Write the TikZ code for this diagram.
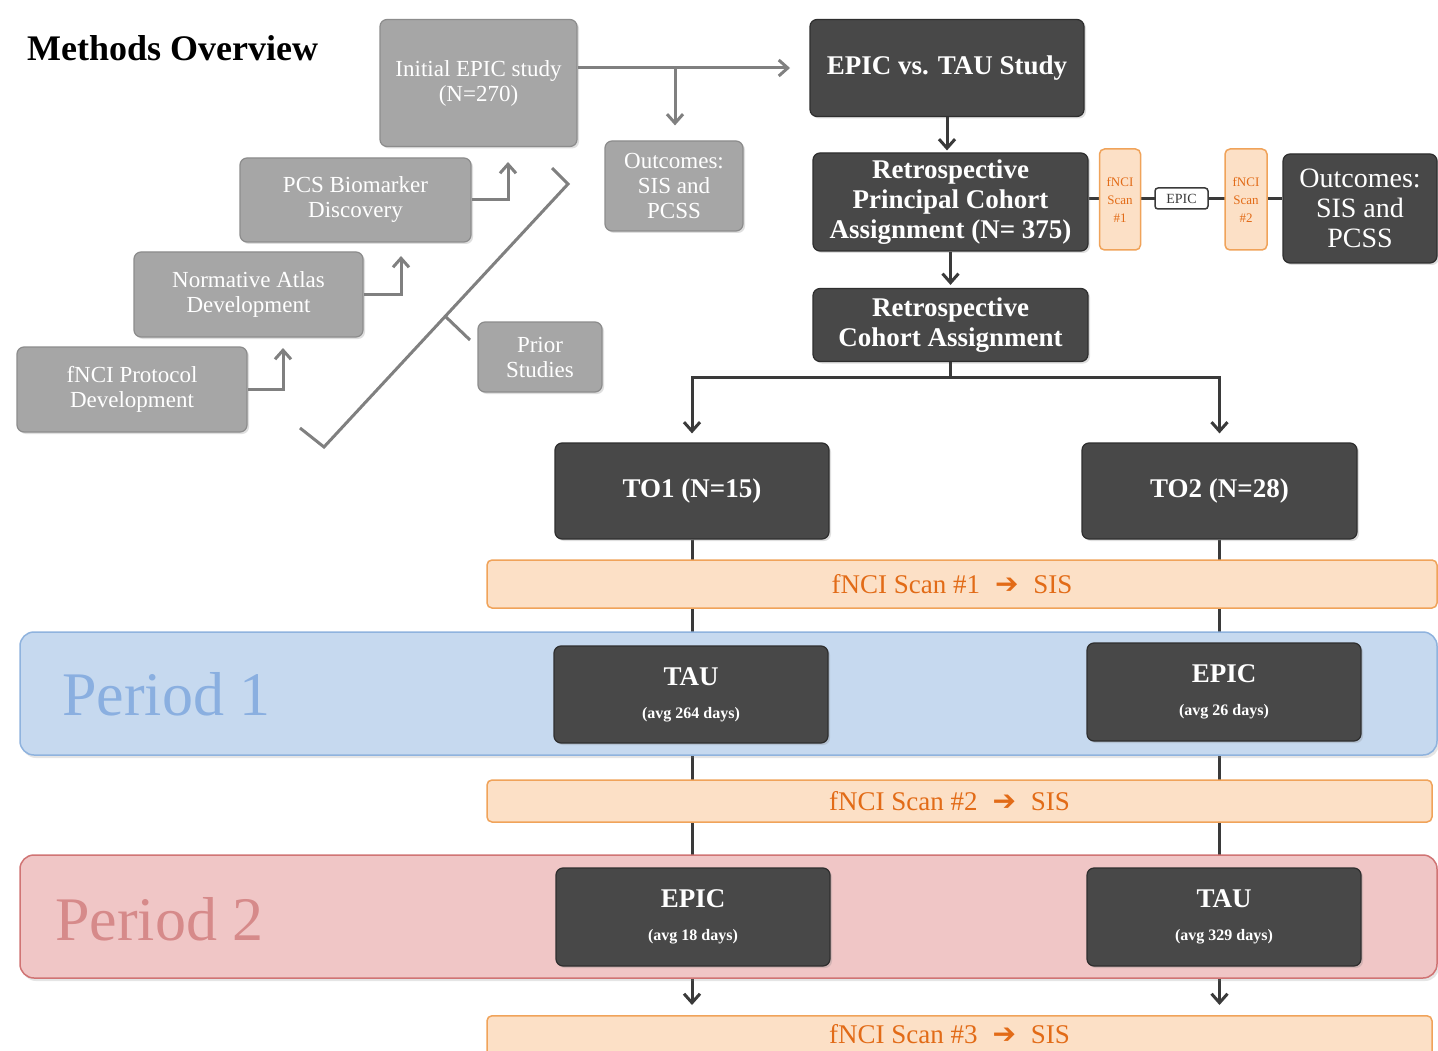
\documentclass[tikz,border=0pt]{standalone}
\usepackage{fontspec}
\setmainfont{Liberation Serif}
\newfontfamily\dvfont{DejaVu Sans}
\usetikzlibrary{arrows.meta,shadows,calc}
\pgfdeclarelayer{back}
\pgfdeclarelayer{bg}
\pgfsetlayers{back,bg,main}
\definecolor{lgfill}{HTML}{A6A6A6}
\definecolor{lgdraw}{HTML}{8C8C8C}
\definecolor{dkfill}{HTML}{484848}
\definecolor{dkdraw}{HTML}{2E2E2E}
\definecolor{orfill}{HTML}{FCE0C6}
\definecolor{ordraw}{HTML}{F0A35A}
\definecolor{ortext}{HTML}{E26B17}
\definecolor{bluefill}{HTML}{C6D9EF}
\definecolor{bluedraw}{HTML}{8FB3DE}
\definecolor{bluetext}{HTML}{8AAFE0}
\definecolor{pinkfill}{HTML}{F0C6C6}
\definecolor{pinkdraw}{HTML}{D07474}
\definecolor{pinktext}{HTML}{D68A8A}
\definecolor{arrgrey}{HTML}{808080}
\definecolor{arrdark}{HTML}{3A3A3A}
\newcommand\fsz[2]{\fontsize{#1}{#2}\selectfont}
\begin{document}
\begin{tikzpicture}[x=1pt,y=-1pt,
  shad/.style={drop shadow={opacity=0.25,shadow xshift=2pt,shadow yshift=-2pt}},
  lbox/.style={rounded corners=7pt, fill=lgfill, draw=lgdraw, line width=1.2pt, text=white,
    align=center, inner sep=0pt, font=\fsz{23}{25}, shad},
  dbox/.style={rounded corners=7pt, fill=dkfill, draw=dkdraw, line width=1.2pt, text=white,
    align=center, inner sep=0pt, font=\bfseries\fsz{27}{30}, shad},
  obox/.style={rounded corners=5pt, fill=orfill, draw=ordraw, line width=1.5pt, text=ortext,
    align=center, inner sep=0pt},
  bartext/.style={font=\fsz{27}{30}},
  band/.style={rounded corners=14pt, line width=1.5pt, inner sep=0pt,
    drop shadow={opacity=0.2,shadow xshift=2pt,shadow yshift=-3pt}},
  garrow/.style={draw=arrgrey, line width=3pt, -{Straight Barb[length=9pt,width=16pt]}},
  gline/.style={draw=arrgrey, line width=3pt},
  darrow/.style={draw=arrdark, line width=3pt, -{Straight Barb[length=9pt,width=16pt]}},
  dline/.style={draw=arrdark, line width=3pt},
]
\useasboundingbox (0,0) rectangle (1438,1051);
\begin{pgfonlayer}{back}
\fill[white] (0,0) rectangle (1438,1051);
\end{pgfonlayer}

% title
\node[anchor=west, font=\bfseries\fsz{36}{40}, inner sep=0pt] (title) at (27,48) {Methods Overview};

% left grey part
\node[lbox, minimum width=197pt, minimum height=127pt] (init) at (478.5,83) {Initial EPIC study\\(N=270)};
\node[lbox, minimum width=138pt, minimum height=90pt] (out1) at (674,186) {Outcomes:\\SIS and\\PCSS};
\node[lbox, minimum width=231pt, minimum height=84pt] (pcs) at (355.5,200) {PCS Biomarker\\Discovery};
\node[lbox, minimum width=229pt, minimum height=85pt] (norm) at (248.5,294.5) {Normative Atlas\\Development};
\node[lbox, minimum width=230pt, minimum height=85pt] (fnci) at (132,389.5) {fNCI Protocol\\Development};
\node[lbox, minimum width=124pt, minimum height=70pt] (prior) at (540,357) {Prior\\Studies};

\coordinate (tipA) at (790,68);
\coordinate (brA) at (675,68);
\draw[garrow] (init.east |- tipA) -- (tipA);
\draw[garrow, shorten >=15pt] (brA) -- (brA |- out1.north);
\coordinate (u1) at (283,348);
\coordinate (u2) at (401,256);
\coordinate (u3) at (508,162);
\draw[garrow] (fnci.east) -| (u1);
\draw[garrow] (norm.east) -| (u2);
\draw[garrow] (pcs.east) -| (u3);

% bracket
\coordinate (b1) at (300,428);
\coordinate (b2) at (324,447);
\coordinate (b3) at (568,184);
\coordinate (b4) at (552,168);
\coordinate (bj) at (446,317);
\coordinate (bt) at (470,340);
\draw[gline, line join=miter] (b1) -- (b2) -- (b3) -- (b4);
\draw[gline] (bj) -- (bt);

% right dark column
\node[dbox, minimum width=274pt, minimum height=97pt] (epictau) at (947,68) {EPIC vs. TAU Study};
\node[dbox, minimum width=275pt, minimum height=98pt] (rpca) at (950.5,202) {Retrospective\\Principal Cohort\\Assignment (N= 375)};
\node[dbox, minimum width=275pt, minimum height=73pt] (rca) at (950.5,325) {Retrospective\\Cohort Assignment};
\node[dbox, minimum width=274pt, minimum height=96pt] (to1) at (692,491) {TO1 (N=15)};
\node[dbox, minimum width=275pt, minimum height=96pt] (to2) at (1219.5,491) {TO2 (N=28)};

\node[obox, minimum width=41pt, minimum height=101pt, font=\fsz{13}{18}] (s1) at (1120,199.5) {fNCI\\Scan\\\#1};
\node[rounded corners=3pt, fill=white, draw=arrdark, line width=1.5pt, text=arrdark, inner sep=0pt,
  minimum width=53pt, minimum height=21pt, font=\fsz{14}{16}] (epics) at (1181.5,198.5) {EPIC};
\node[obox, minimum width=42pt, minimum height=101pt, font=\fsz{13}{18}] (s2) at (1246,199.5) {fNCI\\Scan\\\#2};
\node[dbox, font=\fsz{28}{30}, minimum width=154pt, minimum height=109pt] (out2) at (1360,208.5) {Outcomes:\\SIS and\\PCSS};

\begin{pgfonlayer}{bg}
\draw[dline] (rpca.east |- epics) -- (out2.west |- epics);
\end{pgfonlayer}

\draw[darrow, shorten >=2pt] (epictau.south) -- (epictau.south |- rpca.north);
\draw[darrow, shorten >=3pt] (rpca.south) -- (rca.north);
\coordinate (j) at (950.5,377);
\draw[dline] (rca.south) -- (j);
\draw[darrow, shorten >=9pt] (j) -| (to1.north);
\draw[darrow, shorten >=9pt] (j) -| (to2.north);

% vertical lines behind bars
\coordinate (tip1) at (693,1005);
\coordinate (tip2) at (1222,1005);
\begin{pgfonlayer}{bg}
\draw[darrow] (to1.south) -- (to1.south |- tip1);
\draw[darrow] (to2.south) -- (to2.south |- tip2);
\end{pgfonlayer}

% bars and bands
\newcommand\scantext[1]{fNCI Scan \##1\hspace{15pt}{\dvfont\bfseries\fsz{28}{28}➔}\hspace{15pt}SIS\hspace{20pt}}
\node[obox, minimum width=950pt, minimum height=48pt, bartext] (bar1) at (962,584) {\scantext{1}};

\node[band, fill=bluefill, draw=bluedraw, minimum width=1417pt, minimum height=123pt] (p1) at (728.5,693.5) {};
\node[anchor=west, inner sep=0pt, text=bluetext, font=\fsz{62}{62}] (p1l) at (62,694) {Period 1};
\node[dbox, minimum width=274pt, minimum height=97pt] (tau1) at (691,694.5) {TAU\\[3pt]{\fsz{16}{18}(avg 264 days)}};
\node[dbox, minimum width=274pt, minimum height=98pt] (epic1) at (1224,692) {EPIC\\[3pt]{\fsz{16}{18}(avg 26 days)}};

\node[obox, minimum width=945pt, minimum height=42pt, bartext] (bar2) at (959.5,801) {\scantext{2}};

\node[band, fill=pinkfill, draw=pinkdraw, minimum width=1417pt, minimum height=123pt] (p2) at (728.5,916.5) {};
\node[anchor=west, inner sep=0pt, text=pinktext, font=\fsz{62}{62}] (p2l) at (55,919) {Period 2};
\node[dbox, minimum width=274pt, minimum height=98pt] (epic2) at (693,917) {EPIC\\[3pt]{\fsz{16}{18}(avg 18 days)}};
\node[dbox, minimum width=274pt, minimum height=98pt] (tau2) at (1224,917) {TAU\\[3pt]{\fsz{16}{18}(avg 329 days)}};

\node[obox, minimum width=945pt, minimum height=50pt, bartext, anchor=north] (bar3) at (959.5,1015) {\raisebox{13pt}{\scantext{3}}};
\end{tikzpicture}
\end{document}
